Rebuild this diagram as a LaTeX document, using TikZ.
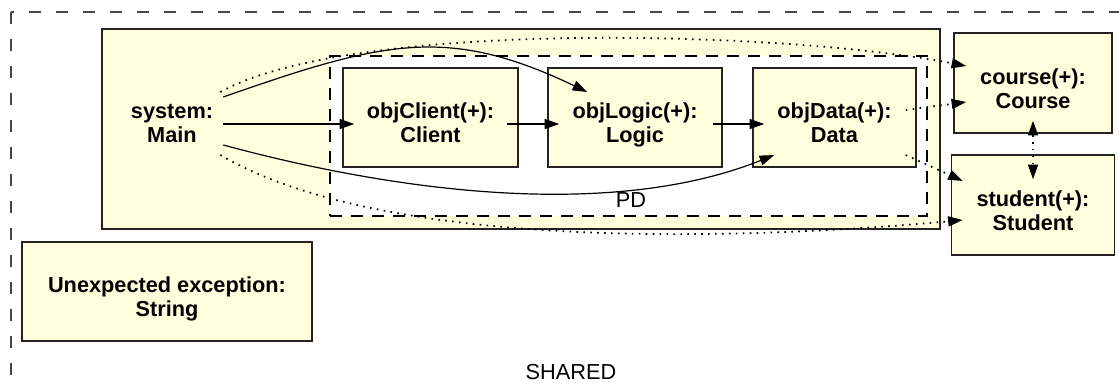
\documentclass[tikz,border=0pt]{standalone}
\usepackage{fontspec}
\setmainfont{Liberation Sans}
\usetikzlibrary{arrows.meta,calc}
\definecolor{boxfill}{RGB}{255,255,221}
\definecolor{edge}{RGB}{35,35,35}
\definecolor{outerdash}{RGB}{70,70,70}
\newdimen\pxu
\pxu=0.75pt
\newcommand{\twol}[2]{\rule{0pt}{25.2pt}#1\\#2\rule[-5pt]{0pt}{5pt}}
\begin{document}
\begin{tikzpicture}[x=0.75pt,y=-0.75pt,
  txt/.style={font=\bfseries\fontsize{16.3}{18}\selectfont,align=center},
  obj/.style={txt,draw=edge,line width=1.1pt,fill=boxfill,inner sep=0pt},
  plain/.style={font=\fontsize{16.3}{18}\selectfont,inner sep=0pt},
  arr/.style={-{Triangle[length=11pt,width=7.5pt]},line width=0.9pt,black},
  darr/.style={-{Triangle[length=11pt,width=7.5pt]},line width=1.3pt,black,dash pattern=on 1.2pt off 4pt},
  ddarr/.style={{Triangle[length=11pt,width=7.5pt]}-{Triangle[length=11pt,width=7.5pt]},line width=1.3pt,black,dash pattern=on 1.2pt off 4pt}]
\clip (0,0) rectangle (1119,387);
\fill[white] (0,0) rectangle (1119,387);
% outer SHARED region
\draw[outerdash,line width=1.1pt,dash pattern=on 9pt off 11.25pt] (11,12) rectangle (1140,410);
\node[plain] (shared) at (571,372) {SHARED};
% main container
\node[draw=edge,line width=1.3pt,fill=boxfill,minimum width=838*\pxu,minimum height=200*\pxu,inner sep=0pt] (mainbox) at (521,129) {};
% PD region
\node[draw=black,line width=1.1pt,fill=white,dash pattern=on 9pt off 6.75pt,minimum width=597*\pxu,minimum height=160*\pxu,inner sep=0pt] (pd) at (628.5,136) {};
\node[plain] (pdlabel) at (631,200) {PD};
% objects
\node[txt,minimum width=102*\pxu,inner sep=0pt] (sys) at (172,117.5) {\twol{system:}{Main}};
\node[obj,minimum width=175*\pxu,minimum height=99*\pxu] (cli) at (430.5,117.5) {\twol{objClient(+):}{Client}};
\node[obj,minimum width=174*\pxu,minimum height=99*\pxu] (log) at (635,117.5) {\twol{objLogic(+):}{Logic}};
\node[obj,minimum width=163*\pxu,minimum height=99*\pxu] (dat) at (834.5,117.5) {\twol{objData(+):}{Data}};
\node[obj,minimum width=158*\pxu,minimum height=100*\pxu] (crs) at (1033,83) {\twol{course(+):}{Course}};
\node[obj,minimum width=163*\pxu,minimum height=100*\pxu] (stu) at (1033,205) {\twol{student(+):}{Student}};
\node[obj,minimum width=290*\pxu,minimum height=99*\pxu] (exc) at (167,291.5) {\twol{Unexpected exception:}{String}};
% solid connectors
\draw[arr] ($(sys.east)+(0,6.5)$) -- ($(cli.west)+(12,6.5)$);
\draw[arr] ($(cli.east)+(-12,6.5)$) -- ($(log.west)+(12,6.5)$);
\draw[arr] ($(log.east)+(-10,6.5)$) -- ($(dat.west)+(12,6.5)$);
\draw[arr] ($(sys.east)+(0,-20.5)$) .. controls +(160,-56) and +(-140,-67) .. ($(log.west)+(40,-25.5)$);
\draw[arr] ($(sys.east)+(0,27.5)$) .. controls +(200,54) and +(-150,60) .. ($(dat.west)+(22,37.5)$);
% dotted connectors
\draw[darr] ($(sys.east)+(-3,-25.5)$) .. controls +(130,-72) and +(-187,-36) .. ($(crs.west)+(13,-17)$);
\draw[darr] ($(dat.east)+(-11,-7.5)$) -- ($(crs.west)+(13,19)$);
\draw[darr] ($(dat.east)+(-11,37.5)$) -- ($(stu.west)+(12,-24)$);
\draw[darr] ($(sys.east)+(-3,37.5)$) .. controls +(180,105) and +(-164,15) .. ($(stu.west)+(12,15)$);
\draw[ddarr] ($(crs.south)+(0,-13)$) -- ($(stu.north)+(0,25)$);
\end{tikzpicture}
\end{document}
